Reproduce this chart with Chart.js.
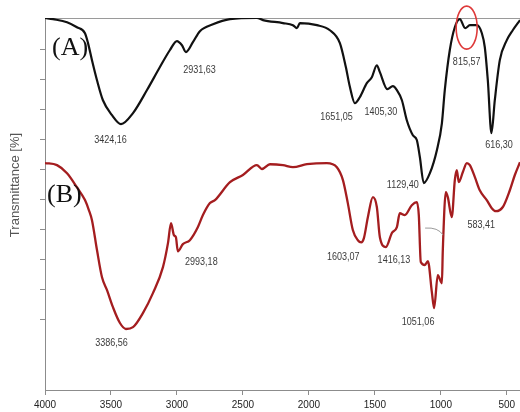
<!DOCTYPE html>
<html>
<head>
<meta charset="utf-8">
<script src="https://cdn.jsdelivr.net/npm/chart.js@4.4.1/dist/chart.umd.min.js"></script>
<style>
  html, body { margin: 0; padding: 0; background: #fff; }
  canvas { display: block; }
</style>
</head>
<body>
<canvas id="ftir" width="520" height="412"></canvas>
<script>
// FTIR spectra: wavenumber (cm-1) vs transmittance (arbitrary offset scale)
const wavenumbersA = [4000,3939,3833,3758,3697,3674,3644,3606,3561,3492,3424.16,3333,3227,3129,3053,3000,2962,2931.63,2879,2826,2727,2598,2394,2348,2197,2121,2091,2068,1939,1841,1765,1720,1689,1651.05,1614,1561,1523,1485,1462,1405.30,1364,1333,1295,1258,1212,1182,1159,1129.40,1083,1030,992,970,932,894,856,815.57,780,727,689,667,644,616.30,591,553,500,455,400];
const transmittanceA = [110.7,110.3,109.3,107.6,105.6,102.3,96.6,89.9,83.2,78.2,75.2,78.9,86.6,94.3,100.0,103.0,101.6,99.3,102.6,106.3,108.6,110.3,110.7,110.0,109.0,108.3,107.3,109.0,108.3,106.6,102.3,94.3,87.6,82.2,84.2,88.9,90.9,94.9,92.6,86.9,87.9,86.6,83.2,76.5,71.5,69.9,64.2,55.5,58.8,66.5,75.5,86.6,100.0,107.6,110.3,107.3,108.3,108.3,105.6,101.0,89.9,72.2,83.2,96.6,103.3,106.6,110.0];

const wavenumbersB = [4000,3909,3833,3758,3697,3667,3644,3606,3568,3530,3485,3432,3386.56,3333,3258,3182,3106,3068,3045,3023,3008,2993.18,2955,2902,2841,2803,2750,2712,2598,2500,2394,2356,2295,2197,2121,2015,1864,1788,1742,1705,1667,1629,1603.07,1583,1553,1515,1485,1462,1416.13,1371,1333,1311,1273,1220,1182,1167,1152,1121,1098,1068,1051.06,1023,992,985,962,947,917,894,879,864,833,803,780,742,705,652,614,583.41,530,477,439,400];
const transmittanceB = [62.2,61.5,58.8,54.1,49.8,46.4,43.1,33.1,24.0,19.7,14.0,8.7,6.7,7.3,12.0,18.7,27.4,35.4,42.1,38.1,37.4,32.7,35.1,36.4,40.8,44.8,48.8,49.8,55.8,58.2,61.5,60.2,61.8,61.5,60.8,61.8,62.2,60.8,56.5,48.8,39.8,36.4,35.7,37.1,44.1,50.8,47.5,37.4,34.1,38.8,40.8,45.4,44.8,48.1,49.1,44.8,29.1,28.1,29.4,19.0,13.7,24.7,22.0,33.1,52.5,50.8,44.1,56.5,59.8,55.8,59.2,62.2,61.5,57.5,53.1,49.8,47.1,46.1,47.5,53.1,58.2,62.5];

// Band labels (wavenumber, decimal comma)
const bandLabelsA = ['3424,16','2931,63','1651,05','1405,30','1129,40','815,57','616,30'];
const bandLabelsB = ['3386,56','2993,18','1603,07','1416,13','1051,06','583,41'];

const xTickValues = [500,1000,1500,2000,2500,3000,3500,4000];
const yTickValues = [10,20,30,40,50,60,70,80,90,100];

// label placement relative to the band minimum, in px
const labelOffsetsA = [[-10.5,16],[13.5,18],[-18.5,14],[-6.5,23],[-21,2],[1.5,34],[7.5,12]];
const labelOffsetsB = [[-14.5,14],[23.5,11],[-18,15],[8,13],[-16,14],[-14.5,14]];

const toPoints = (xs, ys) => xs.map((x, i) => ({ x: x, y: ys[i] }));
const parseWn = s => parseFloat(s.replace(',', '.'));
const valueAt = (xs, ys, wn) => ys[xs.indexOf(wn)];

const AXIS_COLOR = '#8c8c8c';
const LABEL_FONT = '11px "Liberation Sans", Arial, sans-serif';
const NARROW = 0.82; // horizontal squeeze for the condensed band labels

const annotations = {
  id: 'annotations',
  afterDatasetsDraw(chart) {
    const { ctx, scales } = chart;
    const xs = scales.x, ys = scales.y;

    ctx.save();
    ctx.font = LABEL_FONT;
    ctx.fillStyle = '#3b3b3b';
    ctx.textAlign = 'center';
    ctx.textBaseline = 'middle';
    const drawSet = (labels, offsets, wns, vals) => {
      labels.forEach((txt, i) => {
        const wn = parseWn(txt);
        const px = xs.getPixelForValue(wn) + offsets[i][0];
        const py = ys.getPixelForValue(valueAt(wns, vals, wn)) + offsets[i][1];
        ctx.save();
        ctx.translate(px, py);
        ctx.scale(NARROW, 1);
        ctx.fillText(txt, 0, 0);
        ctx.restore();
      });
    };
    drawSet(bandLabelsA, labelOffsetsA, wavenumbersA, transmittanceA);
    drawSet(bandLabelsB, labelOffsetsB, wavenumbersB, transmittanceB);

    // circled feature near 815 cm-1
    const cx = xs.getPixelForValue(815.57) + 1.5;
    const cy = ys.getPixelForValue(valueAt(wavenumbersA, transmittanceA, 815.57)) - 0.5;
    ctx.beginPath();
    ctx.ellipse(cx, cy, 10.5, 21.5, 0, 0, Math.PI * 2);
    ctx.strokeStyle = '#de3a3a';
    ctx.lineWidth = 1.6;
    ctx.stroke();

    // leader line beside the 1051 band
    const lx = xs.getPixelForValue(1051.06);
    const ly = ys.getPixelForValue(valueAt(wavenumbersB, transmittanceB, 1051.06));
    ctx.beginPath();
    ctx.moveTo(lx - 9, ly - 80);
    ctx.quadraticCurveTo(lx + 4, ly - 81, lx + 9, ly - 73);
    ctx.strokeStyle = '#9a9a9a';
    ctx.lineWidth = 1;
    ctx.stroke();

    // sample markers
    ctx.font = '26px "Liberation Serif", "DejaVu Serif", serif';
    ctx.fillStyle = '#111';
    ctx.textAlign = 'left';
    ctx.fillText('(A)', 52, 48);
    ctx.fillText('(B)', 47, 195);

    // y-axis title
    ctx.translate(15, 185);
    ctx.rotate(-Math.PI / 2);
    ctx.font = '13px "Liberation Sans", Arial, sans-serif';
    ctx.fillStyle = '#555';
    ctx.textAlign = 'center';
    ctx.fillText('Transmittance [%]', 0, 0);
    ctx.restore();
  }
};

new Chart(document.getElementById('ftir'), {
  type: 'line',
  data: {
    datasets: [
      {
        label: 'A',
        data: toPoints(wavenumbersA, transmittanceA),
        borderColor: '#111111',
        borderWidth: 2.2,
        pointRadius: 0,
        cubicInterpolationMode: 'monotone',
        fill: false
      },
      {
        label: 'B',
        data: toPoints(wavenumbersB, transmittanceB),
        borderColor: '#a41d1f',
        borderWidth: 2.3,
        pointRadius: 0,
        cubicInterpolationMode: 'monotone',
        fill: false
      }
    ]
  },
  options: {
    responsive: false,
    animation: false,
    devicePixelRatio: 1,
    layout: { padding: 0 },
    plugins: { legend: { display: false }, tooltip: { enabled: false } },
    scales: {
      x: {
        type: 'linear',
        reverse: true,
        min: 400,
        max: 4000,
        afterBuildTicks: s => { s.ticks = xTickValues.map(v => ({ value: v })); },
        ticks: {
          autoSkip: false,
          maxRotation: 0,
          padding: 4,
          color: '#222',
          font: { family: '"Liberation Sans", Arial, sans-serif', size: 10 },
          callback: v => String(v)
        },
        grid: { drawOnChartArea: false, drawTicks: true, tickLength: 5, color: AXIS_COLOR },
        border: { color: AXIS_COLOR, width: 1 },
        afterFit: s => { s.height = 22; }
      },
      xTop: {
        type: 'linear',
        position: 'top',
        reverse: true,
        min: 400,
        max: 4000,
        ticks: { display: false },
        grid: { display: false },
        border: { color: '#9a9a9a', width: 1 },
        afterFit: s => { s.height = 18; }
      },
      y: {
        min: -13.7,
        max: 110.7,
        afterBuildTicks: s => { s.ticks = yTickValues.map(v => ({ value: v })); },
        ticks: { display: false },
        grid: { drawOnChartArea: false, drawTicks: true, tickLength: 5, color: AXIS_COLOR },
        border: { color: AXIS_COLOR, width: 1 },
        afterFit: s => { s.width = 45; }
      }
    }
  },
  plugins: [annotations]
});
</script>
</body>
</html>
